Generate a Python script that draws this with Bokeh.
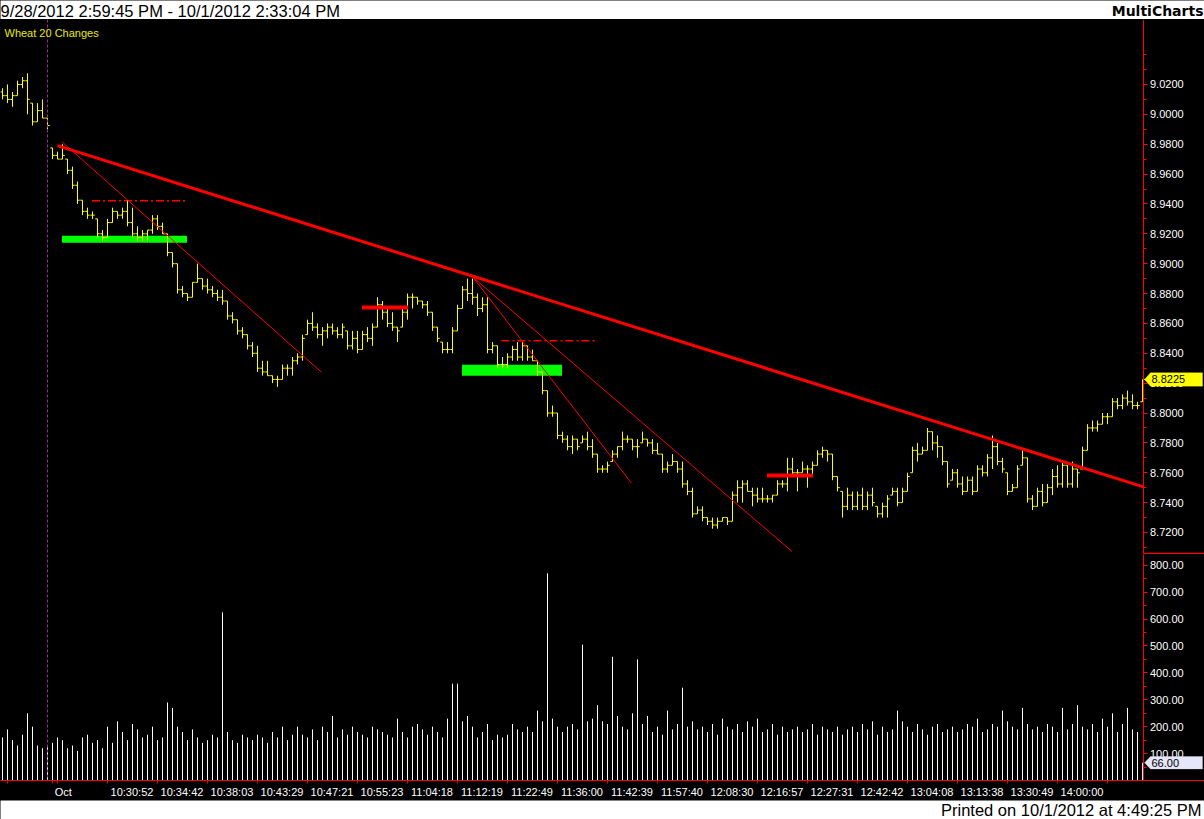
import numpy as np
from bokeh.plotting import figure
from bokeh.layouts import column
from bokeh.models import (Range1d, FixedTicker, NumeralTickFormatter, CustomJSTickFormatter,
                          Label, PolyAnnotation, Span)
from bokeh.embed import file_html
from bokeh.resources import INLINE
from bokeh.core.properties import value

# ---------------- data ----------------
session_title = "9/28/2012 2:59:45 PM - 10/1/2012 2:33:04 PM"
brand = "MultiCharts"
printed = "Printed on 10/1/2012 at 4:49:25 PM"
symbol_label = "Wheat  20 Changes"

opens = [
9.015, 9.0125, 9.010, 9.0125, 9.020, 9.0225, 9.0075, 8.995, 9.0025, 8.9975,
8.9775, 8.9725, 8.970, 8.970, 8.9625, 8.9525, 8.9425, 8.935, 8.9325, 8.930,
8.920, 8.9175, 8.9275, 8.935, 8.9325, 8.935, 8.9275, 8.920, 8.9175, 8.920,
8.9225, 8.930, 8.925, 8.920, 8.9075, 8.900, 8.8825, 8.880, 8.8775, 8.8875,
8.890, 8.885, 8.8825, 8.880, 8.8775, 8.875, 8.865, 8.8625, 8.855, 8.8525,
8.845, 8.840, 8.830, 8.8275, 8.825, 8.8225, 8.8225, 8.830, 8.830, 8.835,
8.8375, 8.8525, 8.860, 8.8575, 8.8525, 8.855, 8.8575, 8.855, 8.8525, 8.855,
8.845, 8.850, 8.8425, 8.8525, 8.850, 8.8575, 8.8725, 8.8675, 8.860, 8.8575,
8.8575, 8.8675, 8.8775, 8.8775, 8.875, 8.8725, 8.8675, 8.8575, 8.8475, 8.8425,
8.8425, 8.855, 8.870, 8.8825, 8.880, 8.8775, 8.870, 8.8725, 8.8425, 8.845,
8.8325, 8.8325, 8.8375, 8.8425, 8.8375, 8.845, 8.8375, 8.835, 8.8275, 8.815,
8.800, 8.800, 8.785, 8.7825, 8.7775, 8.7825, 8.780, 8.7825, 8.7775, 8.7725,
8.7625, 8.7625, 8.7675, 8.7725, 8.7775, 8.7825, 8.7825, 8.7775, 8.780, 8.7825,
8.780, 8.775, 8.7725, 8.7625, 8.765, 8.7675, 8.7625, 8.7525, 8.7475, 8.7325,
8.735, 8.730, 8.7275, 8.725, 8.7275, 8.730, 8.7275, 8.745, 8.750, 8.7525,
8.7475, 8.745, 8.7425, 8.7425, 8.7425, 8.745, 8.7525, 8.7525, 8.7625, 8.760,
8.760, 8.7625, 8.7625, 8.765, 8.7725, 8.775, 8.7725, 8.7575, 8.7475, 8.7375,
8.745, 8.7375, 8.745, 8.7375, 8.745, 8.7375, 8.7325, 8.7375, 8.745, 8.7475,
8.740, 8.7475, 8.760, 8.775, 8.7725, 8.775, 8.7875, 8.780, 8.7775, 8.7675,
8.755, 8.760, 8.7525, 8.7475, 8.755, 8.7475, 8.7625, 8.760, 8.770, 8.7775,
8.7675, 8.760, 8.7475, 8.750, 8.765, 8.770, 8.7425, 8.7375, 8.7475, 8.740,
8.750, 8.7575, 8.7525, 8.765, 8.7525, 8.7625, 8.7625, 8.775, 8.790, 8.790,
8.7925, 8.7975, 8.7975, 8.8075, 8.805, 8.810, 8.8075, 8.805, 8.8075]

highs = [
9.0175, 9.020, 9.015, 9.0225, 9.025, 9.0275, 9.0075, 9.0075, 9.010, 8.9975,
8.9775, 8.975, 8.980, 8.970, 8.965, 8.955, 8.9425, 8.9375, 8.935, 8.930,
8.9225, 8.930, 8.9375, 8.935, 8.9375, 8.9425, 8.9375, 8.925, 8.9225, 8.9225,
8.9325, 8.9325, 8.9275, 8.920, 8.9075, 8.900, 8.885, 8.880, 8.8875, 8.900,
8.890, 8.890, 8.885, 8.8825, 8.8825, 8.875, 8.8675, 8.8625, 8.8575, 8.8525,
8.8475, 8.845, 8.835, 8.835, 8.825, 8.825, 8.8325, 8.8325, 8.8375, 8.840,
8.8525, 8.8625, 8.8675, 8.860, 8.8575, 8.860, 8.860, 8.8575, 8.860, 8.855,
8.855, 8.855, 8.855, 8.8575, 8.860, 8.8775, 8.875, 8.870, 8.8675, 8.8575,
8.870, 8.880, 8.880, 8.8775, 8.875, 8.875, 8.8675, 8.8575, 8.8475, 8.8475,
8.8575, 8.8725, 8.885, 8.890, 8.890, 8.880, 8.8775, 8.8775, 8.8475, 8.845,
8.8375, 8.840, 8.845, 8.8475, 8.8475, 8.845, 8.8425, 8.835, 8.8275, 8.815,
8.805, 8.800, 8.7875, 8.785, 8.785, 8.7825, 8.785, 8.7875, 8.7825, 8.7725,
8.765, 8.7675, 8.775, 8.7775, 8.7875, 8.785, 8.7825, 8.7825, 8.7875, 8.7825,
8.7825, 8.780, 8.7725, 8.7675, 8.7725, 8.7675, 8.7675, 8.755, 8.750, 8.7375,
8.7375, 8.730, 8.730, 8.730, 8.730, 8.730, 8.7475, 8.755, 8.755, 8.755,
8.750, 8.750, 8.750, 8.745, 8.745, 8.755, 8.755, 8.770, 8.770, 8.7625,
8.7675, 8.765, 8.7675, 8.775, 8.7775, 8.775, 8.7725, 8.7575, 8.7475, 8.750,
8.7475, 8.7475, 8.750, 8.7475, 8.750, 8.7375, 8.740, 8.745, 8.750, 8.750,
8.750, 8.760, 8.7775, 8.780, 8.7775, 8.790, 8.7875, 8.785, 8.7775, 8.7675,
8.7625, 8.7625, 8.7575, 8.7575, 8.7575, 8.765, 8.765, 8.7725, 8.785, 8.780,
8.770, 8.760, 8.7525, 8.765, 8.775, 8.770, 8.745, 8.750, 8.7525, 8.7525,
8.7625, 8.765, 8.7675, 8.765, 8.7675, 8.7625, 8.7775, 8.7925, 8.795, 8.795,
8.800, 8.800, 8.810, 8.810, 8.8125, 8.815, 8.8125, 8.8075, 8.8225]

lows = [
9.010, 9.0075, 9.005, 9.0125, 9.0175, 9.000, 8.9925, 8.995, 8.9975, 8.990,
8.970, 8.970, 8.970, 8.960, 8.950, 8.940, 8.9325, 8.930, 8.930, 8.9175,
8.915, 8.9175, 8.9275, 8.930, 8.930, 8.925, 8.9175, 8.915, 8.915, 8.915,
8.920, 8.9225, 8.920, 8.905, 8.8975, 8.880, 8.8775, 8.875, 8.8775, 8.8875,
8.8825, 8.880, 8.8775, 8.875, 8.8725, 8.8625, 8.860, 8.8525, 8.850, 8.8425,
8.8375, 8.8275, 8.825, 8.825, 8.820, 8.8175, 8.8225, 8.825, 8.825, 8.8325,
8.835, 8.8525, 8.855, 8.850, 8.845, 8.850, 8.8525, 8.850, 8.850, 8.8425,
8.8425, 8.840, 8.8425, 8.8475, 8.845, 8.8575, 8.8625, 8.8575, 8.855, 8.8475,
8.8575, 8.8625, 8.870, 8.8725, 8.870, 8.865, 8.855, 8.8475, 8.840, 8.840,
8.840, 8.855, 8.870, 8.875, 8.8725, 8.865, 8.8675, 8.840, 8.840, 8.830,
8.830, 8.830, 8.835, 8.835, 8.835, 8.835, 8.835, 8.825, 8.8125, 8.7975,
8.7975, 8.7825, 8.780, 8.775, 8.7725, 8.775, 8.780, 8.775, 8.770, 8.760,
8.760, 8.760, 8.7675, 8.770, 8.775, 8.780, 8.775, 8.770, 8.780, 8.7775,
8.7725, 8.7725, 8.760, 8.760, 8.765, 8.760, 8.750, 8.745, 8.730, 8.7325,
8.7275, 8.725, 8.7225, 8.7225, 8.7275, 8.725, 8.7275, 8.740, 8.740, 8.7475,
8.7375, 8.740, 8.740, 8.740, 8.740, 8.745, 8.750, 8.7475, 8.7575, 8.7475,
8.760, 8.750, 8.7575, 8.765, 8.770, 8.7675, 8.755, 8.7475, 8.730, 8.735,
8.735, 8.735, 8.735, 8.735, 8.7375, 8.730, 8.730, 8.730, 8.745, 8.7375,
8.740, 8.7475, 8.760, 8.7675, 8.7725, 8.775, 8.775, 8.770, 8.765, 8.750,
8.755, 8.750, 8.745, 8.7475, 8.745, 8.7475, 8.7575, 8.7575, 8.7625, 8.765,
8.760, 8.745, 8.7475, 8.750, 8.765, 8.740, 8.735, 8.7375, 8.7375, 8.740,
8.745, 8.750, 8.750, 8.750, 8.750, 8.750, 8.7625, 8.775, 8.7875, 8.7875,
8.7925, 8.7925, 8.7975, 8.8025, 8.8025, 8.805, 8.8025, 8.8025, 8.8075]

closes = [
9.0125, 9.010, 9.0125, 9.020, 9.0225, 9.010, 8.995, 9.0025, 8.9975, 8.9925,
8.9725, 8.970, 8.9725, 8.9625, 8.9525, 8.9425, 8.935, 8.9325, 8.9325, 8.920,
8.9175, 8.9275, 8.935, 8.9325, 8.935, 8.9275, 8.920, 8.9175, 8.920, 8.9225,
8.930, 8.925, 8.920, 8.9075, 8.900, 8.8825, 8.880, 8.8775, 8.8875, 8.890,
8.885, 8.8825, 8.880, 8.8775, 8.875, 8.865, 8.8625, 8.855, 8.8525, 8.845,
8.840, 8.830, 8.8275, 8.825, 8.8225, 8.8225, 8.830, 8.830, 8.835, 8.8375,
8.850, 8.860, 8.8575, 8.8525, 8.855, 8.8575, 8.855, 8.8525, 8.8575, 8.845,
8.850, 8.8425, 8.8525, 8.850, 8.8575, 8.8725, 8.8675, 8.860, 8.8575, 8.855,
8.8675, 8.8775, 8.8775, 8.875, 8.8725, 8.8675, 8.8575, 8.850, 8.8425, 8.8425,
8.855, 8.870, 8.8825, 8.880, 8.8775, 8.870, 8.8725, 8.8425, 8.845, 8.8325,
8.8325, 8.8375, 8.8425, 8.8375, 8.845, 8.8375, 8.835, 8.8275, 8.815, 8.800,
8.800, 8.785, 8.7825, 8.7775, 8.7825, 8.7775, 8.7825, 8.7775, 8.7725, 8.7625,
8.7625, 8.765, 8.7725, 8.7775, 8.7825, 8.7825, 8.7775, 8.7775, 8.7825, 8.780,
8.775, 8.7725, 8.7625, 8.765, 8.7675, 8.7625, 8.7525, 8.7475, 8.7325, 8.735,
8.730, 8.7275, 8.725, 8.7275, 8.730, 8.7275, 8.745, 8.750, 8.7525, 8.7475,
8.745, 8.7425, 8.7425, 8.7425, 8.745, 8.7525, 8.7525, 8.7625, 8.760, 8.760,
8.7625, 8.7625, 8.765, 8.7725, 8.775, 8.7725, 8.7575, 8.750, 8.7375, 8.745,
8.7375, 8.745, 8.7375, 8.745, 8.740, 8.7325, 8.7375, 8.7425, 8.7475, 8.740,
8.7475, 8.7575, 8.775, 8.7725, 8.775, 8.7875, 8.780, 8.7775, 8.7675, 8.7525,
8.760, 8.7525, 8.7475, 8.755, 8.7475, 8.7625, 8.760, 8.770, 8.7775, 8.7675,
8.7625, 8.7475, 8.750, 8.7625, 8.770, 8.7425, 8.7375, 8.7475, 8.740, 8.750,
8.7575, 8.7525, 8.765, 8.7525, 8.7625, 8.760, 8.775, 8.790, 8.790, 8.7925,
8.7975, 8.7975, 8.8075, 8.805, 8.810, 8.8075, 8.805, 8.805, 8.8225]

volumes = [
160, 190, 150, 130, 170, 250, 200, 130, 120, 130,
140, 160, 150, 120, 130, 110, 160, 170, 140, 150,
120, 200, 140, 220, 180, 150, 210, 190, 160, 170,
200, 150, 160, 290, 270, 200, 180, 150, 190, 160,
140, 150, 170, 160, 625, 180, 150, 140, 170, 160,
150, 170, 160, 140, 180, 160, 200, 150, 170, 200,
170, 160, 190, 150, 200, 180, 240, 160, 190, 170,
200, 180, 170, 160, 200, 190, 180, 170, 160, 230,
180, 160, 200, 210, 190, 170, 200, 180, 160, 230,
360, 360, 220, 240, 200, 160, 180, 210, 150, 170,
160, 170, 210, 190, 180, 200, 180, 260, 220, 770,
230, 200, 180, 200, 210, 190, 505, 220, 230, 280,
220, 210, 460, 240, 200, 190, 250, 450, 210, 240,
180, 200, 170, 260, 190, 210, 345, 200, 220, 190,
200, 180, 210, 170, 230, 200, 190, 210, 180, 220,
200, 230, 180, 190, 210, 170, 200, 180, 190, 200,
180, 190, 210, 170, 200, 190, 180, 200, 170, 190,
200, 180, 210, 190, 220, 170, 200, 180, 190, 260,
220, 200, 180, 210, 190, 170, 200, 210, 180, 190,
200, 180, 190, 210, 200, 230, 180, 190, 210, 200,
260, 220, 200, 190, 270, 210, 190, 200, 180, 210,
200, 180, 270, 190, 210, 280, 200, 190, 210, 180,
230, 200, 250, 180, 210, 270, 190, 180, 66]

# time axis: bar index of each tick and the labels attached to ticks
time_tick_bars = [1, 10, 11, 21, 31, 41, 51, 61, 71, 81, 91, 101, 111, 121, 131,
                  141, 151, 161, 171, 181, 191, 201, 211, 221]
time_label_bars = [10, 21, 31, 41, 51, 61, 71, 81, 91, 101, 111, 121, 131, 141,
                   151, 161, 171, 181, 191, 201, 211]
time_labels = ["Oct", "10:30:52", "10:34:42", "10:38:03", "10:43:29", "10:47:21",
               "10:55:23", "11:04:18", "11:12:19", "11:22:49", "11:36:00", "11:42:39",
               "11:57:40", "12:08:30", "12:16:57", "12:27:31", "12:42:42", "13:04:08",
               "13:13:38", "13:30:49", "14:00:00"]
session_break_bar = 9

price_ticks = [8.72, 8.74, 8.76, 8.78, 8.80, 8.82, 8.84, 8.86, 8.88, 8.90,
               8.92, 8.94, 8.96, 8.98, 9.00, 9.02]
price_minor_ticks = [8.71, 8.73, 8.75, 8.77, 8.79, 8.81, 8.83, 8.85, 8.87, 8.89,
                     8.91, 8.93, 8.95, 8.97, 8.99, 9.01, 9.03, 9.04]
volume_ticks = [100, 200, 300, 400, 500, 600, 700, 800]
volume_minor_ticks = [0, 50, 150, 250, 350, 450, 550, 650, 750]

# drawing objects (bar index, price)
trend_main_x = [11.0, 228.2]
trend_main_y = [8.9790, 8.7505]
trend_thin_x = [[11.9, 63.8], [94.1, 125.8], [94.1, 157.9]]
trend_thin_y = [[8.9816, 8.8273], [8.8909, 8.7530], [8.8909, 8.7073]]
dash_x = [[17.9, 36.5], [99.8, 118.5]]
dash_y = [8.9421, 8.8484]
green_x = [[11.9, 36.9], [91.9, 111.9]]
green_y = [8.9164, 8.8287]
green_w = [7, 11]
red_mark_x = [[71.9, 81.1], [152.9, 162.1]]
red_mark_y = [8.8706, 8.7582]

# ---------------- layout constants ----------------
FONT = "Liberation Sans"
W = 1204
H_HEAD, H_PRICE, H_VOL, AXIS_H, H_FOOT = 19, 535, 246, 17, 19
X0 = -0.4
XR = X0 + W / 5.0          # 5 px per bar
AX = 228.1                 # price-scale line position (bar units)
PMIN, PMAX = 8.70526, 9.0635
VMAX = 840

n = len(highs)
assert len(lows) == n and len(opens) == n and len(closes) == n and len(volumes) == n
idx = np.arange(n, dtype=float)
o = np.array(opens); h = np.array(highs); l = np.array(lows); c = np.array(closes)
vol = np.array(volumes, dtype=float)

x_range = Range1d(X0, XR)


def dark(fig):
    fig.background_fill_color = "black"
    fig.border_fill_color = "black"
    fig.outline_line_color = None
    fig.grid.visible = False


def style_scale(ax):
    ax.fixed_location = AX
    ax.axis_line_color = "red"
    ax.major_tick_line_color = "red"
    ax.minor_tick_line_color = "red"
    ax.major_tick_out = 4
    ax.major_tick_in = 0
    ax.minor_tick_out = 3
    ax.minor_tick_in = 0
    ax.major_label_standoff = 3
    ax.major_label_text_color = "white"
    ax.major_label_text_font = FONT
    ax.major_label_text_font_size = "11px"


def white_band(height):
    f = figure(width=W, height=height, x_range=Range1d(0, W), y_range=Range1d(0, height),
               x_axis_location=None, y_axis_location=None, toolbar_location=None,
               output_backend="svg", min_border=0)
    f.background_fill_color = "white"
    f.border_fill_color = "white"
    f.outline_line_color = None
    f.grid.visible = False
    return f


# ---------------- header ----------------
head = white_band(H_HEAD)
head.text(x=[0], y=[H_HEAD / 2 - 0.5], text=[session_title], text_font=value(FONT),
          text_font_size="16.5px", text_color="black", text_align="left",
          text_baseline="middle")
head.text(x=[W - 1], y=[H_HEAD / 2 - 0.5], text=[brand], text_font=value("DejaVu Sans"),
          text_font_size="14px", text_font_style="bold", text_color="black",
          text_align="right", text_baseline="middle")

# ---------------- price panel ----------------
p = figure(width=W, height=H_PRICE, x_range=x_range, y_range=Range1d(PMIN, PMAX),
           x_axis_location=None, y_axis_location="right", toolbar_location=None,
           output_backend="svg", min_border=0)
dark(p)
ya = p.yaxis[0]
ya.ticker = FixedTicker(ticks=price_ticks, minor_ticks=price_minor_ticks)
ya.formatter = NumeralTickFormatter(format="0.0000")
style_scale(ya)

p.add_layout(Span(location=session_break_bar, dimension="height", line_color="#9a2a9a",
                  line_dash="3 2", line_width=1))

for (gx, gy, gw) in zip(green_x, green_y, green_w):
    p.line(x=gx, y=[gy, gy], line_color="#00ff00", line_width=gw, line_cap="butt")
for (dx, dy) in zip(dash_x, dash_y):
    p.line(x=dx, y=[dy, dy], line_color="red", line_width=1.5, line_dash="8 3 2 3")

bar_col = "#ffff00"
p.segment(x0=idx, y0=l, x1=idx, y1=h, line_color=bar_col, line_width=1)
p.segment(x0=idx - 0.45, y0=o, x1=idx, y1=o, line_color=bar_col, line_width=1)
p.segment(x0=idx, y0=c, x1=idx + 0.45, y1=c, line_color=bar_col, line_width=1)

for tx, ty in zip(trend_thin_x, trend_thin_y):
    p.line(x=tx, y=ty, line_color="red", line_width=1)
p.line(x=trend_main_x, y=trend_main_y, line_color="red", line_width=3)
for (rx, ry) in zip(red_mark_x, red_mark_y):
    p.line(x=rx, y=[ry, ry], line_color="red", line_width=4, line_cap="butt")

p.add_layout(Label(x=4, y=H_PRICE - 13, x_units="screen", y_units="screen",
                   text=symbol_label, text_font=FONT, text_font_size="11px",
                   text_color="#e8e800", text_baseline="middle"))

# separator under the price scale (one pixel above the panel's lower edge)
sep_y = PMIN + 1.0 / 1493.3
p.segment(x0=[AX], y0=[sep_y], x1=[XR], y1=[sep_y], line_color="red", line_width=1.5)

# last price marker on the scale
last_c = closes[-1]
hp = 0.0045
p.add_layout(PolyAnnotation(xs=[AX + 0.3, AX + 1.5, XR - 0.4, XR - 0.4, AX + 1.5],
                            ys=[last_c, last_c + hp, last_c + hp, last_c - hp, last_c - hp],
                            fill_color="#ffff00", fill_alpha=1, line_color="#ffff00"))
p.add_layout(Label(x=AX + 1.7, y=last_c, text=f"{last_c:.4f}", text_font=FONT,
                   text_font_size="11px", text_color="black", text_baseline="middle"))

# ---------------- volume panel ----------------
v = figure(width=W, height=H_VOL, x_range=x_range, y_range=Range1d(0, VMAX),
           x_axis_location="below", y_axis_location="right", toolbar_location=None,
           output_backend="svg", min_border_left=0, min_border_top=0,
           min_border_right=0, min_border_bottom=AXIS_H)
dark(v)
vy = v.yaxis[0]
vy.ticker = FixedTicker(ticks=volume_ticks, minor_ticks=volume_minor_ticks)
vy.formatter = NumeralTickFormatter(format="0.00")
style_scale(vy)

label_pos = [b + 0.5 + len(t) * 5.5 / 2 / 5.0 for b, t in zip(time_label_bars, time_labels)]
vx = v.xaxis[0]
vx.ticker = FixedTicker(ticks=label_pos, minor_ticks=time_tick_bars)
vx.formatter = CustomJSTickFormatter(args=dict(pos=label_pos, lab=time_labels), code="""
    for (let k = 0; k < pos.length; k++) {
        if (Math.abs(pos[k] - tick) < 0.01) { return lab[k]; }
    }
    return "";
""")
vx.axis_line_color = "red"
vx.major_tick_line_color = None
vx.major_tick_out = 0
vx.major_tick_in = 0
vx.minor_tick_line_color = "red"
vx.minor_tick_out = 3
vx.minor_tick_in = 0
vx.major_label_standoff = 2
vx.major_label_text_color = "white"
vx.major_label_text_font = FONT
vx.major_label_text_font_size = "11px"

v.add_layout(Span(location=session_break_bar, dimension="height", line_color="#9a2a9a",
                  line_dash="3 2", line_width=1))
v.segment(x0=idx, y0=np.zeros(n), x1=idx, y1=vol, line_color="white", line_width=1)

last_v = volumes[-1]
hv = 23
v.add_layout(PolyAnnotation(xs=[AX + 0.3, AX + 1.5, XR - 0.4, XR - 0.4, AX + 1.5],
                            ys=[last_v, last_v + hv, last_v + hv, last_v - hv, last_v - hv],
                            fill_color="#e6e6fa", fill_alpha=1, line_color="#e6e6fa"))
v.add_layout(Label(x=AX + 1.7, y=last_v, text=f"{last_v:.2f}", text_font=FONT,
                   text_font_size="11px", text_color="black", text_baseline="middle"))

# ---------------- footer ----------------
foot = white_band(H_FOOT)
foot.text(x=[W - 3], y=[H_FOOT / 2], text=[printed], text_font=value(FONT),
          text_font_size="16.5px", text_color="black", text_align="right",
          text_baseline="middle")

layout = column(head, p, v, foot, spacing=0, styles={"background-color": "black"})
open("out.html", "w").write(file_html(layout, INLINE))
